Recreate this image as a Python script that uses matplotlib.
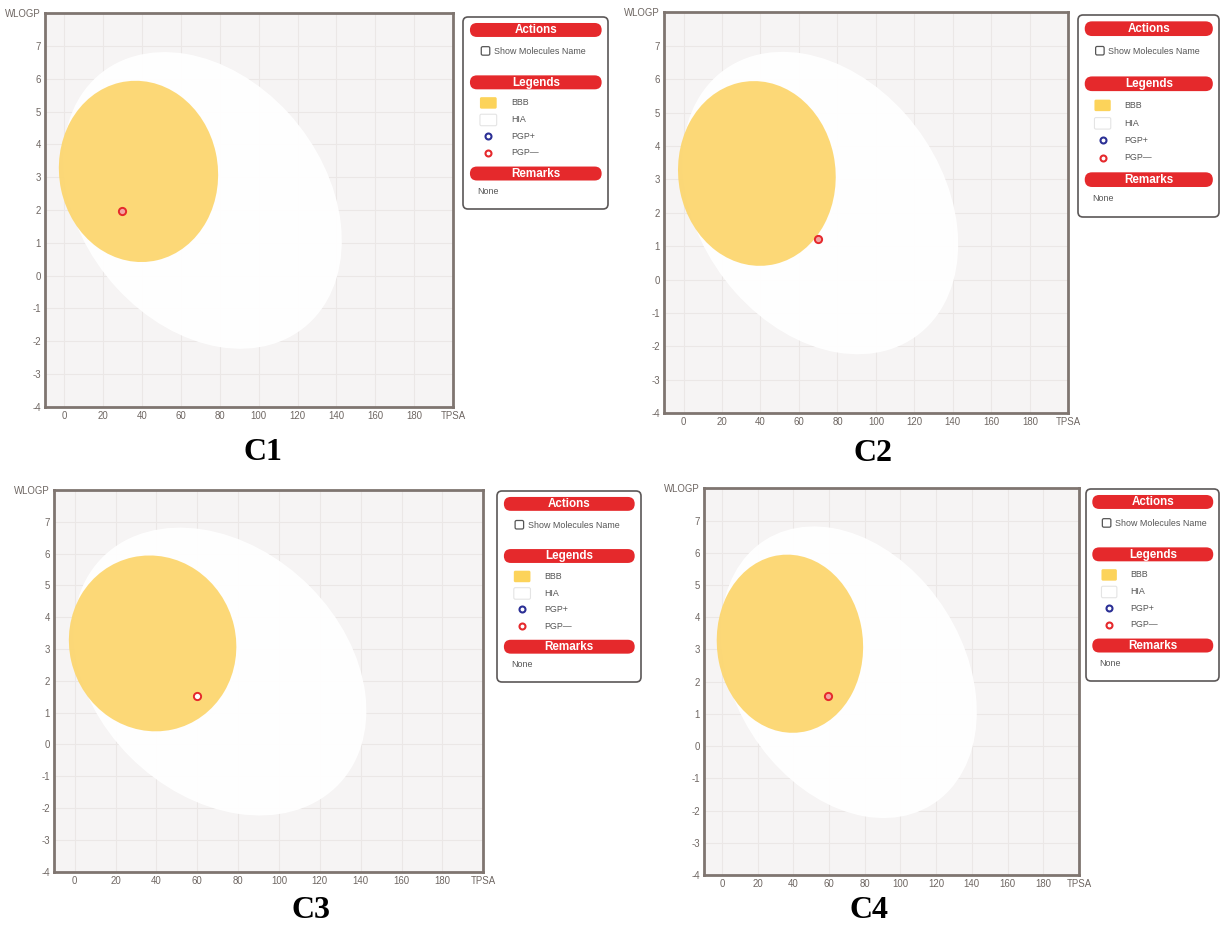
import matplotlib
matplotlib.use("Agg")
import matplotlib.pyplot as plt
from matplotlib.patches import Ellipse, FancyBboxPatch
from matplotlib.transforms import Affine2D
from matplotlib import font_manager

# ---------------- data ----------------
compounds = ["C1", "C2", "C3", "C4"]
tpsa = [29.8, 69.8, 60.0, 59.6]
wlogp = [1.98, 1.23, 1.53, 1.55]

# BOILED-Egg regions: centre in (TPSA, WLOGP); semi-axes (WLOGP units) and tilt (deg)
# defined in a plane where TPSA is divided by TPSA_SCALE
TPSA_SCALE = 16.0
bbb_center = (38.117, 3.177)
bbb_semi_axes = (2.551, 2.775)
bbb_angle = 12.7
hia_center = (71.051, 2.292)
hia_semi_axes = (5.08, 3.84)
hia_angle = -46.0

x_ticks = [0, 20, 40, 60, 80, 100, 120, 140, 160, 180]
y_ticks = [-4, -3, -2, -1, 0, 1, 2, 3, 4, 5, 6, 7]
x_name, y_name = "TPSA", "WLOGP"
x_range = (-10, 200)
y_range = (-4, 8)

section_titles = ["Actions", "Legends", "Remarks"]
checkbox_label = "Show Molecules Name"
legend_labels = ["BBB", "HIA", "PGP+", "PGP\u2014"]
remarks_text = "None"

# ---------------- layout (pixels) ----------------
W, H = 1221, 926
frames = [(45, 13.3, 453, 406.7), (664.3, 12.3, 1068.3, 413.3),
          (54.3, 490, 483.3, 871.7), (704, 488.3, 1079, 875)]
legend_boxes = [(462, 16, 609, 210), (1077, 14, 1220, 218),
                (496, 490, 642, 683), (1085, 488, 1220, 682)]
title_pos = [(263, 452), (873, 453), (311, 910), (869, 911)]
dot_faces = ["#f3a3a3", "#f3a3a3", "#ffffff", "#f3a3a3"]

YOLK = "#fcd66f"
WHITE = "#ffffff"
BG = "#f6f4f4"
GRID = "#ebe7e6"
FRAME = "#7f7570"
TICK = "#6e6662"
RED = "#e5292c"
BLUE = "#2b2f95"


def has_font(name):
    try:
        font_manager.findfont(font_manager.FontProperties(family=name),
                              fallback_to_default=False)
        return True
    except Exception:
        return False


if has_font("Liberation Sans Narrow"):
    SANS = "Liberation Sans Narrow"
    fs_tick, fs_text, fs_bar = 8.2, 7.6, 9.6
else:
    SANS = "Liberation Sans"
    fs_tick, fs_text, fs_bar = 6.9, 6.4, 8.4


def frac(box):
    l, t, r, b = box
    return [l / W, 1 - b / H, (r - l) / W, (b - t) / H]


def draw_egg(ax, x, y, face):
    ax.set_facecolor(BG)
    ax.set_xlim(*x_range)
    ax.set_ylim(*y_range)
    ax.set_xticks(x_ticks + [x_range[1]])
    ax.set_xticklabels([str(v) for v in x_ticks] + [x_name])
    ax.set_yticks(y_ticks + [y_range[1]])
    ax.set_yticklabels([str(v) for v in y_ticks] + [y_name])
    ax.tick_params(length=0, labelsize=fs_tick, labelcolor=TICK, pad=3)
    for lab in ax.get_xticklabels() + ax.get_yticklabels():
        lab.set_fontfamily(SANS)
    ax.grid(True, color=GRID, lw=0.8, zorder=0)
    ax.set_axisbelow(True)
    for sp in ax.spines.values():
        sp.set_color(FRAME)
        sp.set_linewidth(2.0)
    scaled = Affine2D().scale(TPSA_SCALE, 1.0) + ax.transData
    hia = Ellipse((hia_center[0] / TPSA_SCALE, hia_center[1]),
                  2 * hia_semi_axes[0], 2 * hia_semi_axes[1], angle=hia_angle,
                  transform=scaled, facecolor=WHITE, edgecolor="none",
                  alpha=0.96, zorder=2)
    bbb = Ellipse((bbb_center[0] / TPSA_SCALE, bbb_center[1]),
                  2 * bbb_semi_axes[0], 2 * bbb_semi_axes[1], angle=bbb_angle,
                  transform=scaled, facecolor=YOLK, edgecolor="none",
                  alpha=0.94, zorder=3)
    ax.add_patch(hia)
    ax.add_patch(bbb)
    ax.plot([x], [y], marker="o", ms=5.2, mfc=face, mec=RED, mew=1.4,
            ls="none", zorder=5)
    ax.set_xlim(*x_range)
    ax.set_ylim(*y_range)


def draw_side_panel(box):
    l, t, r, b = box
    w, h = r - l, b - t
    lax = fig.add_axes(frac(box))
    lax.set_xlim(0, w)
    lax.set_ylim(h, 0)
    lax.axis("off")
    lax.add_patch(FancyBboxPatch((1, 1), w - 2, h - 2,
                                 boxstyle="round,pad=0,rounding_size=5",
                                 fc="white", ec="#5b5757", lw=1.2))
    bar_h = 0.072 * h
    for title, yc in zip(section_titles, [0.072, 0.342, 0.812]):
        lax.add_patch(FancyBboxPatch((0.054 * w, yc * h - bar_h / 2), 0.896 * w, bar_h,
                                     boxstyle="round,pad=0,rounding_size=%.2f" % (bar_h / 2),
                                     fc=RED, ec="none"))
        lax.text(0.502 * w, yc * h + 0.3, title, color="white", fontsize=fs_bar,
                 fontweight="bold", family=SANS, ha="center", va="center")
    # checkbox
    cb = 8.5
    lax.add_patch(FancyBboxPatch((0.16 * w - cb / 2, 0.18 * h - cb / 2), cb, cb,
                                 boxstyle="round,pad=0,rounding_size=1.5",
                                 fc="white", ec="#555555", lw=0.9))
    lax.text(0.22 * w, 0.182 * h, checkbox_label, fontsize=fs_text, family=SANS,
             color="#555555", ha="left", va="center")
    # legend entries
    ys = [0.448, 0.536, 0.619, 0.705]
    sw_w, sw_h = 0.114 * w, 11.5
    lax.add_patch(FancyBboxPatch((0.122 * w, ys[0] * h - sw_h / 2), sw_w, sw_h,
                                 boxstyle="round,pad=0,rounding_size=1.5",
                                 fc="#fcd35a", ec="none"))
    lax.add_patch(FancyBboxPatch((0.122 * w, ys[1] * h - sw_h / 2), sw_w, sw_h,
                                 boxstyle="round,pad=0,rounding_size=1.5",
                                 fc="white", ec="#e4e4e4", lw=0.8))
    lax.plot([0.179 * w], [ys[2] * h], marker="o", ms=4.3, mfc="white", mec=BLUE, mew=1.5)
    lax.plot([0.179 * w], [ys[3] * h], marker="o", ms=4.3, mfc="white", mec=RED, mew=1.5)
    for lab, yc in zip(legend_labels, ys):
        lax.text(0.333 * w, yc * h, lab, fontsize=fs_text, family=SANS,
                 color="#555555", ha="left", va="center")
    lax.text(0.107 * w, 0.906 * h, remarks_text, fontsize=fs_text, family=SANS,
             color="#555555", ha="left", va="center")


fig = plt.figure(figsize=(W / 100, H / 100), dpi=100)
fig.patch.set_facecolor("white")

for i, name in enumerate(compounds):
    ax = fig.add_axes(frac(frames[i]))
    draw_egg(ax, tpsa[i], wlogp[i], dot_faces[i])
    draw_side_panel(legend_boxes[i])
    tx, ty = title_pos[i]
    fig.text(tx / W, 1 - ty / H, name, fontsize=23, fontweight="bold",
             family="Liberation Serif", ha="center", va="center")

fig.savefig("out.png", dpi=100, facecolor="white")
